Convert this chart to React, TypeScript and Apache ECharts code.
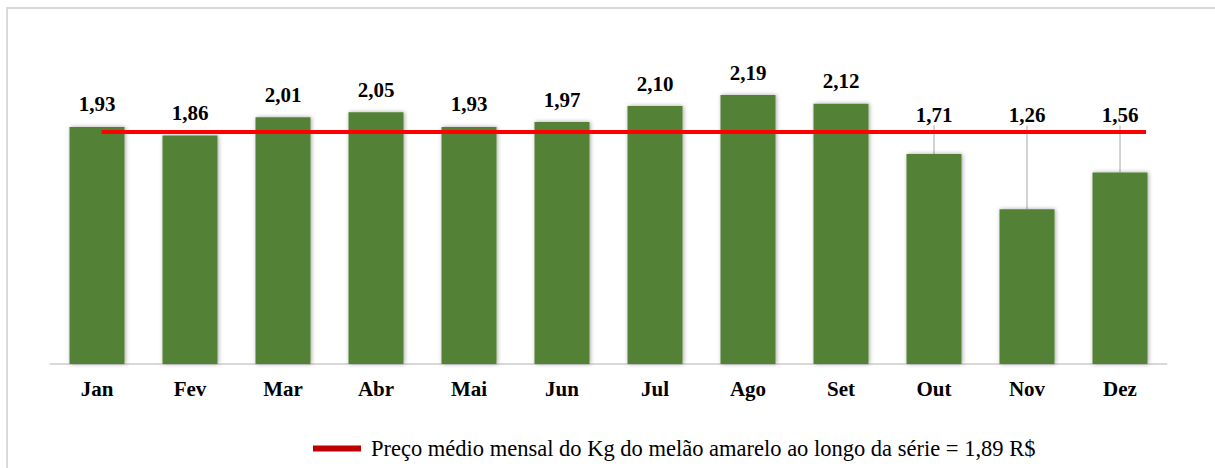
import React, { useEffect, useRef } from "react";
import * as echarts from "echarts";

const months = ["Jan", "Fev", "Mar", "Abr", "Mai", "Jun", "Jul", "Ago", "Set", "Out", "Nov", "Dez"];
const prices = [1.93, 1.86, 2.01, 2.05, 1.93, 1.97, 2.1, 2.19, 2.12, 1.71, 1.26, 1.56];
const meanPrice = 1.89;
const meanLineExtent = [0.55, 11.78];
const legendLabel = "Preço médio mensal do Kg do melão amarelo ao longo da série = 1,89 R$";

const fmt = (v: number) => v.toFixed(2).replace(".", ",");

export default function App() {
  const ref = useRef<HTMLDivElement>(null);
  useEffect(() => {
    if (!ref.current) return;
    const chart = echarts.init(ref.current, null, { renderer: "svg" });
    const font = "Liberation Serif";
    const yMax = 2.5;
    const gridTop = 57;
    const gridH = 307;
    const toPx = (v: number) => gridTop + gridH * (1 - v / yMax);
    const isMoved = (v: number) => v < meanPrice - 0.1;
    chart.setOption({
      animation: false,
      backgroundColor: "#ffffff",
      textStyle: { fontFamily: font },
      graphic: [
        {
          type: "rect",
          shape: { x: 7, y: 8, width: 1220, height: 480 },
          style: { fill: "none", stroke: "#d9d9d9", lineWidth: 2 },
          silent: true,
        },
      ],
      grid: { left: 50.5, width: 1116, top: gridTop, height: gridH },
      xAxis: [
        {
          type: "category",
          data: months,
          axisLine: { show: true, lineStyle: { color: "#d9d9d9", width: 2 } },
          axisTick: { show: false },
          axisLabel: {
            fontFamily: font,
            fontWeight: "bold",
            fontSize: 21,
            color: "#000",
            margin: 14,
          },
        },
        { type: "value", min: 0, max: 12, show: false },
      ],
      yAxis: { type: "value", min: 0, max: yMax, show: false },
      legend: {
        left: 308,
        top: 432,
        icon: "rect",
        itemWidth: 48,
        itemHeight: 6,
        data: [{ name: legendLabel, itemStyle: { color: "#c00000" } }],
        textStyle: { fontFamily: font, fontSize: 22.5, color: "#000", padding: [0, 0, 0, 5] },
      },
      series: [
        {
          type: "bar",
          data: prices.map((v) => ({
            value: v,
            labelLine: { show: isMoved(v) },
          })),
          barWidth: 55,
          itemStyle: {
            color: "#538135",
            shadowBlur: 4,
            shadowColor: "rgba(0,0,0,0.35)",
            shadowOffsetX: 1,
          },
          label: {
            show: true,
            position: "top",
            distance: 12,
            fontFamily: font,
            fontWeight: "bold",
            fontSize: 21,
            color: "#000",
            formatter: (p: any) => fmt(p.value),
          },
          labelLine: { show: false, lineStyle: { color: "#a6a6a6", width: 1 } },
          labelLayout: (p: any) => {
            const v = prices[p.dataIndex];
            if (isMoved(v)) {
              return {
                x: p.rect.x + p.rect.width / 2,
                y: toPx(meanPrice) - 17,
                align: "center",
                verticalAlign: "middle",
              };
            }
            return {};
          },
          z: 2,
        },
        {
          type: "line",
          name: legendLabel,
          xAxisIndex: 1,
          data: meanLineExtent.map((x) => [x, meanPrice]),
          symbol: "none",
          lineStyle: { color: "#ff0000", width: 4 },
          itemStyle: { color: "#ff0000" },
          z: 3,
        },
      ],
    });
    return () => chart.dispose();
  }, []);
  return (
    <div
      ref={ref}
      style={{ position: "fixed", left: 0, top: 0, width: 1215, height: 468, background: "#fff" }}
    />
  );
}
